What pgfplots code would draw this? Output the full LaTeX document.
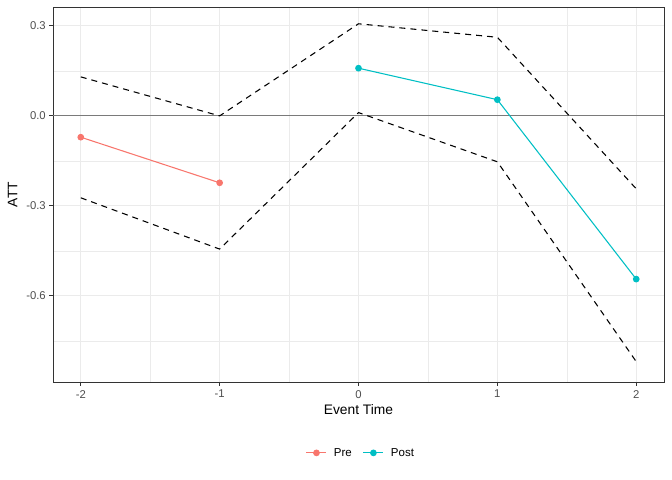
\documentclass[border=0pt]{standalone}
\usepackage{pgfplots}
\pgfplotsset{compat=1.18}
\usepackage{fontspec}
\setmainfont{Liberation Sans}
\definecolor{preC}{HTML}{F8766D}
\definecolor{postC}{HTML}{00BFC4}
\definecolor{grid}{HTML}{EBEBEB}
\definecolor{gtext}{HTML}{4D4D4D}
\definecolor{gborder}{HTML}{333333}
\definecolor{hline}{HTML}{7A7A7A}
\begin{document}
\begin{tikzpicture}
\useasboundingbox (0,0) rectangle (672bp,480bp);
\begin{axis}[
  at={(53bp,98bp)}, anchor=south west,
  scale only axis, width=611bp, height=375bp,
  xmin=-2.2, xmax=2.2, ymin=-0.887, ymax=0.363,
  xtick={-2,-1,0,1,2}, xticklabels={-2,-1,0,1,2},
  ytick={-0.6,-0.3,0,0.3}, yticklabels={-0.6,-0.3,0.0,0.3},
  minor xtick={-1.5,-0.5,0.5,1.5},
  minor ytick={-0.75,-0.45,-0.15,0.15},
  grid=both,
  major grid style={draw=grid, line width=1.07bp},
  minor grid style={draw=grid, line width=0.53bp},
  axis line style={draw=gborder, line width=0.8bp},
  tick style={draw=gborder, line width=0.8bp},
  tick align=outside, major tick length=3.7bp, minor tick length=0pt,
  xtick pos=bottom, ytick pos=left,
  ticklabel style={font=\fontsize{11.3bp}{13bp}\selectfont, text=gtext},
  xticklabel style={yshift=-1bp},
  /pgf/number format/assume math mode=true,
  xlabel={Event Time}, ylabel={ATT},
  label style={font=\fontsize{13.8bp}{16bp}\selectfont},
  xlabel style={at={(axis description cs:0.5,0)}, anchor=north, yshift=-19bp},
  ylabel style={at={(axis description cs:0,0.5)}, anchor=south, yshift=32bp},
  legend style={at={(axis description cs:0.504,-0.189)}, anchor=center,
    draw=none, fill=none, legend columns=2,
    font=\fontsize{11.5bp}{13bp}\selectfont,
    /tikz/every odd column/.append style={column sep=5bp},
    /tikz/every even column/.append style={column sep=9bp}},
  legend image code/.code={
    \draw[#1, mark=none] (0bp,0bp) -- (20bp,0bp);
    \draw[#1, only marks] plot coordinates {(10bp,0bp)};
  },
  legend cell align=left,
  clip=true,
]
\addplot[draw=hline, line width=1.2bp, forget plot] coordinates {(-2.2,0) (2.2,0)};
\addplot[black, line width=1.07bp, dash pattern=on 6bp off 5bp, forget plot] coordinates {
(-2,0.130) (-1,0.000) (0,0.307) (1,0.262) (2,-0.243)};
\addplot[black, line width=1.07bp, dash pattern=on 6bp off 5bp, forget plot] coordinates {
(-2,-0.273) (-1,-0.444) (0,0.011) (1,-0.153) (2,-0.819)};
\addplot[preC, line width=1.07bp, mark=*, mark size=2.8bp, mark options={solid, fill=preC, draw=preC}] coordinates {
(-2,-0.071) (-1,-0.223)};
\addlegendentry{Pre}
\addplot[postC, line width=1.07bp, mark=*, mark size=2.8bp, mark options={solid, fill=postC, draw=postC}] coordinates {
(0,0.159) (1,0.054) (2,-0.544)};
\addlegendentry{Post}
\end{axis}
\end{tikzpicture}
\end{document}
